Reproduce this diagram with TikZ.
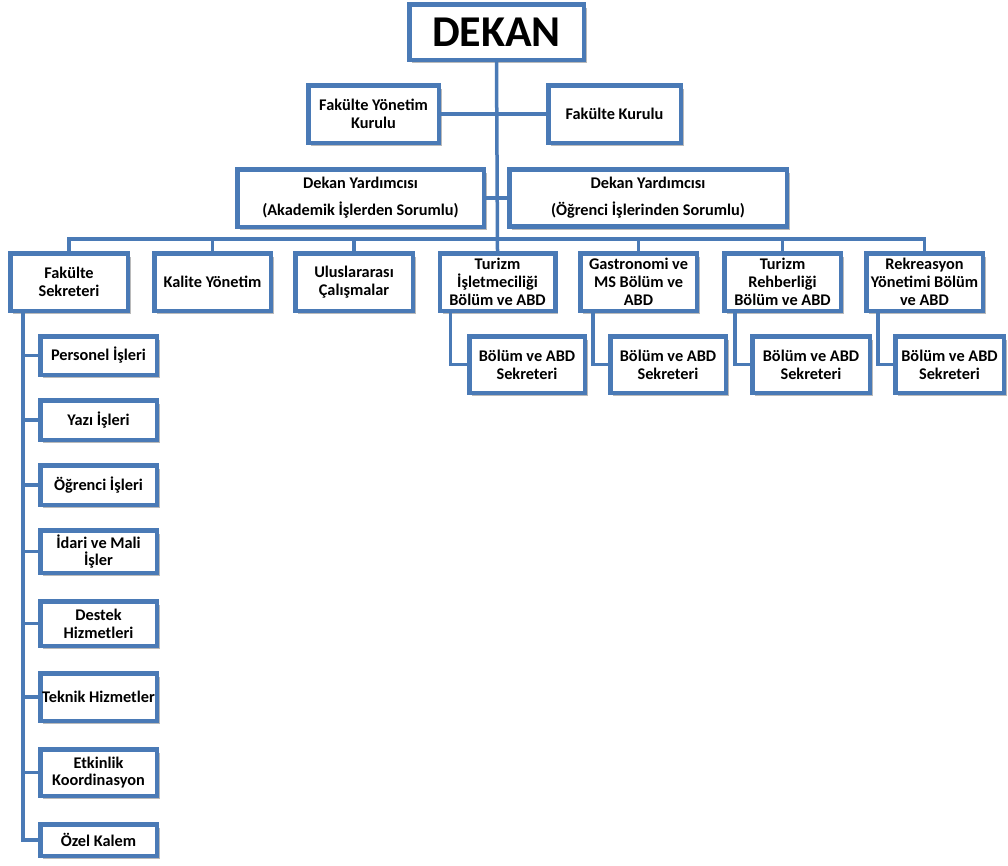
\documentclass[tikz,border=0pt]{standalone}
\usepackage{fontspec}
\setmainfont{Carlito}
\usetikzlibrary{shadows}
\definecolor{boxblue}{RGB}{74,122,182}
\tikzset{
  box/.style={draw=boxblue, line width=4.5pt, fill=white, rectangle, align=center, inner sep=0pt,
    font=\bfseries\fontsize{16.3}{17.8}\selectfont,
    drop shadow={shadow xshift=3pt, shadow yshift=-3.5pt, fill=black!60, opacity=0.45}},
  conn/.style={draw=boxblue, line width=3.5pt}
}
\begin{document}
\begin{tikzpicture}[x=1pt,y=-1pt]
\useasboundingbox (0,0) rectangle (1008,865);
% top
\node[box, minimum width=174.5pt, minimum height=55.5pt, font=\bfseries\fontsize{44}{48}\selectfont] (dekan) at (496.5,32) {DEKAN};
\node[box, minimum width=130.5pt, minimum height=57.5pt] (fyk) at (373.5,114) {Fakülte Yönetim\\Kurulu};
\node[box, minimum width=132.5pt, minimum height=57.5pt] (fk) at (614.5,114) {Fakülte Kurulu};
\node[box, minimum width=246.5pt, minimum height=57.5pt] (dy1) at (360.5,198) {Dekan Yardımcısı\\[9pt](Akademik İşlerden Sorumlu)};
\node[box, minimum width=277.5pt, minimum height=57pt] (dy2) at (648,198) {Dekan Yardımcısı\\[9pt](Öğrenci İşlerinden Sorumlu)};
% second row
\node[box, minimum width=117.5pt, minimum height=57.5pt] (fs) at (69,282) {Fakülte\\Sekreteri};
\node[box, minimum width=116.5pt, minimum height=57.5pt] (kal) at (212.5,282) {Kalite Yönetim};
\node[box, minimum width=117.5pt, minimum height=57.5pt] (ulu) at (354,282) {Uluslararası\\Çalışmalar};
\node[box, minimum width=115.5pt, minimum height=57.5pt] (tur) at (497.5,282) {Turizm\\İşletmeciliği\\Bölüm ve ABD};
\node[box, minimum width=116.5pt, minimum height=57.5pt] (gas) at (638.5,282) {Gastronomi ve\\MS Bölüm ve\\ABD};
\node[box, minimum width=116.5pt, minimum height=57.5pt] (reh) at (782.5,282) {Turizm\\Rehberliği\\Bölüm ve ABD};
\node[box, minimum width=116.5pt, minimum height=57.5pt] (rek) at (924.5,282) {Rekreasyon\\Yönetimi Bölüm\\ve ABD};
% secretaries
\node[box, minimum width=115.5pt, minimum height=56.5pt] (s1) at (527,364.5) {Bölüm ve ABD\\Sekreteri};
\node[box, minimum width=115.5pt, minimum height=56.5pt] (s2) at (668,364.5) {Bölüm ve ABD\\Sekreteri};
\node[box, minimum width=117.5pt, minimum height=56.5pt] (s3) at (811,364.5) {Bölüm ve ABD\\Sekreteri};
\node[box, minimum width=108.5pt, minimum height=56.5pt] (s4) at (949.5,364.5) {Bölüm ve ABD\\Sekreteri};
% left column
\node[box, minimum width=116.5pt, minimum height=38.5pt] (pers) at (98.5,355.5) {Personel İşleri};
\node[box, minimum width=116.5pt, minimum height=39.5pt] (yazi) at (98.5,420) {Yazı İşleri};
\node[box, minimum width=116.5pt, minimum height=39.5pt] (ogr) at (98.5,485) {Öğrenci İşleri};
\node[box, minimum width=116.5pt, minimum height=42.5pt] (idari) at (98.5,551.5) {İdari ve Mali\\İşler};
\node[box, minimum width=116.5pt, minimum height=44.5pt] (destek) at (98.5,623.5) {Destek\\Hizmetleri};
\node[box, minimum width=116.5pt, minimum height=47.5pt] (teknik) at (98.5,697) {Teknik Hizmetler};
\node[box, minimum width=116.5pt, minimum height=46.5pt] (etk) at (98.5,772.5) {Etkinlik\\Koordinasyon};
\node[box, minimum width=116.5pt, minimum height=31.5pt] (ozel) at (98.5,840) {Özel Kalem};
% connectors
\coordinate (bus) at (496,239);
\coordinate (lv) at (23,313);
\draw[conn] (dekan.south) -- (tur.north);
\draw[conn] (fyk.east) -- (fyk.east -| fk.west);
\draw[conn] (dy1.east) -- (dy1.east -| dy2.west);
\draw[conn] (fs.north) -- (fs.north |- bus) -- (rek.north |- bus) -- (rek.north);
\draw[conn] (kal.north) -- (kal.north |- bus);
\draw[conn] (ulu.north) -- (ulu.north |- bus);
\draw[conn] (gas.north) -- (gas.north |- bus);
\draw[conn] (reh.north) -- (reh.north |- bus);
\draw[conn] ([xshift=13pt]tur.south west) |- (s1.west);
\draw[conn] ([xshift=15pt]gas.south west) |- (s2.west);
\draw[conn] ([xshift=13pt]reh.south west) |- (s3.west);
\draw[conn] ([xshift=14pt]rek.south west) |- (s4.west);
\draw[conn] (fs.south -| lv) |- (ozel.west);
\draw[conn] (lv |- pers.west) -- (pers.west);
\draw[conn] (lv |- yazi.west) -- (yazi.west);
\draw[conn] (lv |- ogr.west) -- (ogr.west);
\draw[conn] (lv |- idari.west) -- (idari.west);
\draw[conn] (lv |- destek.west) -- (destek.west);
\draw[conn] (lv |- teknik.west) -- (teknik.west);
\draw[conn] (lv |- etk.west) -- (etk.west);
\end{tikzpicture}
\end{document}
